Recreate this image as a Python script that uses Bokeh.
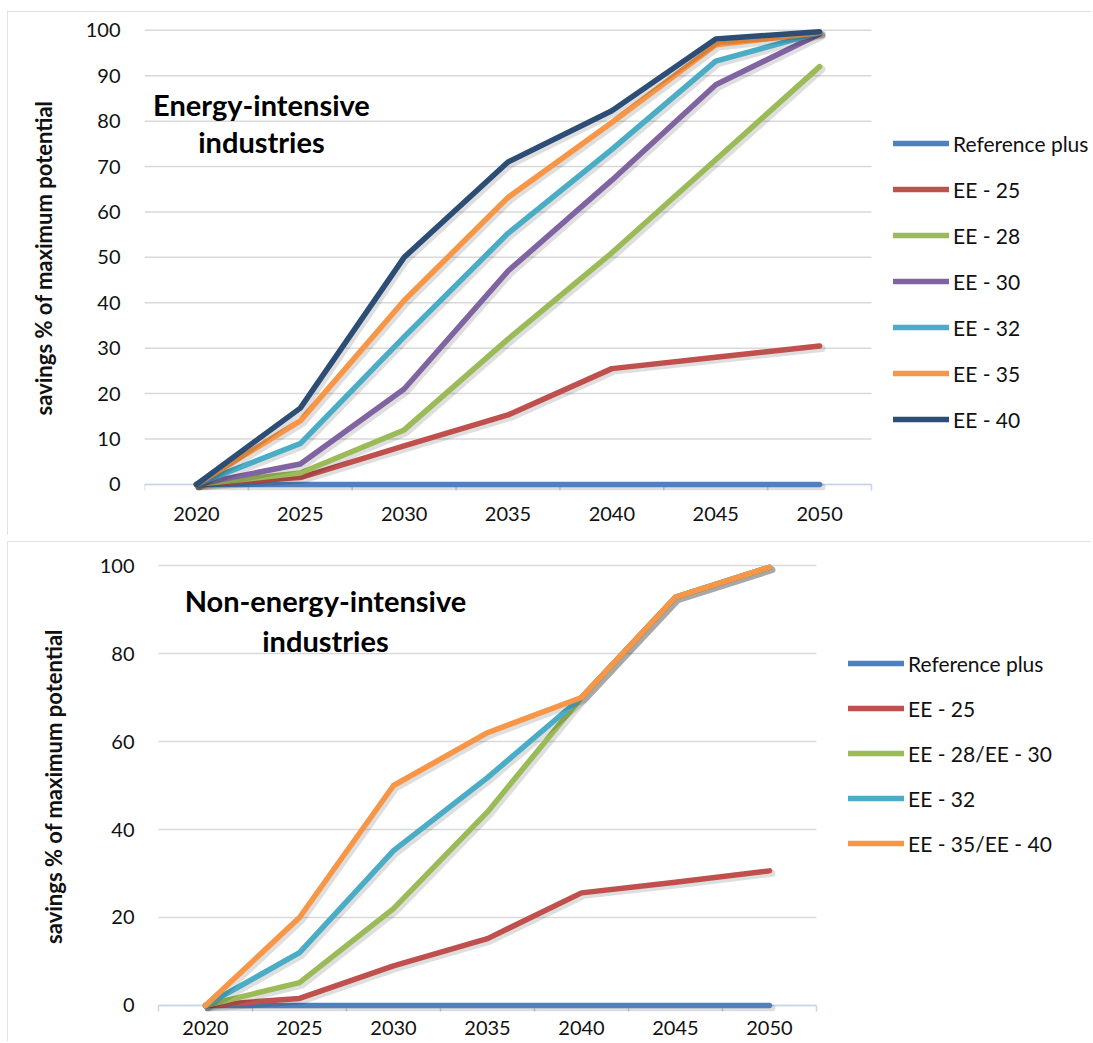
from bokeh.plotting import figure
from bokeh.layouts import column, row, Spacer
from bokeh.models import (ColumnDataSource, Range1d, FixedTicker, Legend, LegendItem, Label)
from bokeh.transform import dodge
from bokeh.embed import file_html
from bokeh.resources import INLINE

# ---------------- data ----------------
years = [2020, 2025, 2030, 2035, 2040, 2045, 2050]
year_labels = ["2020", "2025", "2030", "2035", "2040", "2045", "2050"]

# Energy-intensive industries
top_names = ["Reference plus", "EE - 25", "EE - 28", "EE - 30", "EE - 32", "EE - 35", "EE - 40"]
top_ref_plus = [0, 0, 0, 0, 0, 0, 0]
top_ee25 = [0, 1.5, 8.5, 15.3, 25.5, 28.0, 30.5]
top_ee28 = [0, 2.5, 12.0, 32.0, 51.0, 71.5, 92.0]
top_ee30 = [0, 4.5, 21.0, 47.0, 67.0, 88.0, 99.2]
top_ee32 = [0, 9.0, 32.5, 55.3, 73.8, 93.2, 99.5]
top_ee35 = [0, 14.0, 40.5, 63.2, 79.7, 96.8, 99.5]
top_ee40 = [0, 16.8, 50.0, 71.0, 82.3, 98.1, 99.7]
top_ticks = [0, 10, 20, 30, 40, 50, 60, 70, 80, 90, 100]

# Non-energy-intensive industries
bot_names = ["Reference plus", "EE - 25", "EE - 28/EE - 30", "EE - 32", "EE - 35/EE - 40"]
bot_ref_plus = [0, 0, 0, 0, 0, 0, 0]
bot_ee25 = [0, 1.6, 9.0, 15.2, 25.6, 28.0, 30.6]
bot_ee28_30 = [0, 5.2, 22.0, 44.0, 70.0, 92.8, 99.6]
bot_ee32 = [0, 12.0, 35.2, 51.8, 70.0, 92.8, 99.6]
bot_ee35_40 = [0, 20.0, 50.0, 62.0, 70.0, 92.8, 99.6]
bot_ticks = [0, 20, 40, 60, 80, 100]

colors_top = ["#4F81BD", "#C0504D", "#9BBB59", "#8064A2", "#4BACC6", "#F79646", "#2C4D75"]
colors_bot = ["#4F81BD", "#C0504D", "#9BBB59", "#4BACC6", "#F79646"]

FONT = "Lato"
TXT = "#111111"
GRID = "#D9D9D9"
AXIS = "#C6D5EC"

bounds = [y - 2.5 for y in years] + [years[-1] + 2.5]


def make_chart(height, border_top, border_bottom, xr, yr, yticks,
               series, names, colors, title_lines, title_pos,
               legend_loc, legend_spacing, shadow, ylabel_standoff, tick_standoff,
               xlabel_standoff, tick_len):
    p = figure(width=1084, height=height,
               x_range=Range1d(*xr), y_range=Range1d(*yr),
               output_backend="svg", toolbar_location=None,
               min_border_left=137, min_border_right=0,
               min_border_top=border_top, min_border_bottom=border_bottom)
    p.outline_line_color = None
    p.background_fill_color = "white"
    p.border_fill_color = "white"
    p.styles = {"outline": "1px solid #D9D9D9", "outline-offset": "-1px"}
    p.xgrid.visible = False
    p.ygrid.visible = False

    # y axis
    p.yaxis.ticker = FixedTicker(ticks=yticks)
    p.yaxis.axis_line_color = None
    p.yaxis.major_tick_line_color = None
    p.yaxis.minor_tick_line_color = None
    p.yaxis.major_label_standoff = tick_standoff
    p.yaxis.major_label_text_font = FONT
    p.yaxis.major_label_text_font_size = "20px"
    p.yaxis.major_label_text_color = TXT
    p.yaxis.axis_label = "savings % of maximum potential"
    p.yaxis.axis_label_text_font = FONT
    p.yaxis.axis_label_text_font_style = "bold"
    p.yaxis.axis_label_text_font_size = "22px"
    p.yaxis.axis_label_text_color = TXT
    p.yaxis.axis_label_standoff = ylabel_standoff

    # x axis: category labels only
    p.xaxis.ticker = FixedTicker(ticks=years)
    p.xaxis.major_label_overrides = {yv: lab for yv, lab in zip(years, year_labels)}
    p.xaxis.axis_line_color = None
    p.xaxis.major_tick_line_color = None
    p.xaxis.major_tick_in = 0
    p.xaxis.major_tick_out = 0
    p.xaxis.minor_tick_line_color = None
    p.xaxis.major_label_text_font = FONT
    p.xaxis.major_label_text_font_size = "20px"
    p.xaxis.major_label_text_color = TXT
    p.xaxis.major_label_standoff = xlabel_standoff

    # horizontal gridlines limited to the plot area
    n = len(yticks)
    p.segment(x0=[bounds[0]] * n, x1=[bounds[-1]] * n, y0=yticks, y1=yticks,
              line_color=GRID, line_width=1.5, level="underlay")
    # category axis line and tick marks between categories
    p.segment(x0=[bounds[0]], x1=[bounds[-1]], y0=[0], y1=[0],
              line_color=AXIS, line_width=1.5, level="underlay")
    nb = len(bounds)
    p.segment(x0=bounds, x1=bounds, y0=[0] * nb, y1=[-tick_len] * nb,
              line_color=AXIS, line_width=1.5, level="underlay")

    items = []
    for ys, name, col in zip(series, names, colors):
        src = ColumnDataSource(dict(x=years, y=ys))
        p.line(x=dodge("x", shadow[0]), y=dodge("y", shadow[1]), source=src,
               line_color="black", line_alpha=0.13, line_width=7,
               line_cap="round", line_join="round")
        r = p.line(x="x", y="y", source=src, line_color=col, line_width=5.5,
                   line_cap="round", line_join="round")
        items.append(LegendItem(label=name, renderers=[r]))

    legend = Legend(items=items, location=legend_loc, orientation="vertical",
                    glyph_width=56, glyph_height=26, label_height=26,
                    spacing=legend_spacing, label_standoff=4, padding=0, margin=0,
                    border_line_color=None, background_fill_alpha=0,
                    label_text_font=FONT, label_text_font_size="21px",
                    label_text_color=TXT)
    p.add_layout(legend, "center")

    for (tx, ty), line in zip(title_pos, title_lines):
        p.add_layout(Label(x=tx, y=ty, text=line, text_align="center",
                           text_baseline="middle", text_font=FONT,
                           text_font_size="29px", text_font_style="bold",
                           text_color="#000000"))
    return p


p1 = make_chart(524, 14, 45, (bounds[0], 2063.09), (-1.34, 101.06), top_ticks,
                [top_ref_plus, top_ee25, top_ee28, top_ee30, top_ee32, top_ee35, top_ee40],
                top_names, colors_top,
                ["Energy-intensive", "industries"], [(2023.13, 83.66), (2023.13, 75.5)],
                (749, 58), 20, (0.12, -0.55), 26, 18, 16, 1.55)

p2 = make_chart(500, 20, 30, (2016.755, 2067.13), (-1.364, 100.91), bot_ticks,
                [bot_ref_plus, bot_ee25, bot_ee28_30, bot_ee32, bot_ee35_40],
                bot_names, colors_bot,
                ["Non-energy-intensive", "industries"], [(2026.38, 92.1), (2026.38, 83.0)],
                (704, 155), 19, (0.13, -0.57), 30, 4, 9, 1.6)

layout = row(Spacer(width=7),
             column(Spacer(height=11), p1, Spacer(height=6), p2, spacing=0),
             spacing=0)
open("out.html", "w").write(file_html(layout, INLINE))
